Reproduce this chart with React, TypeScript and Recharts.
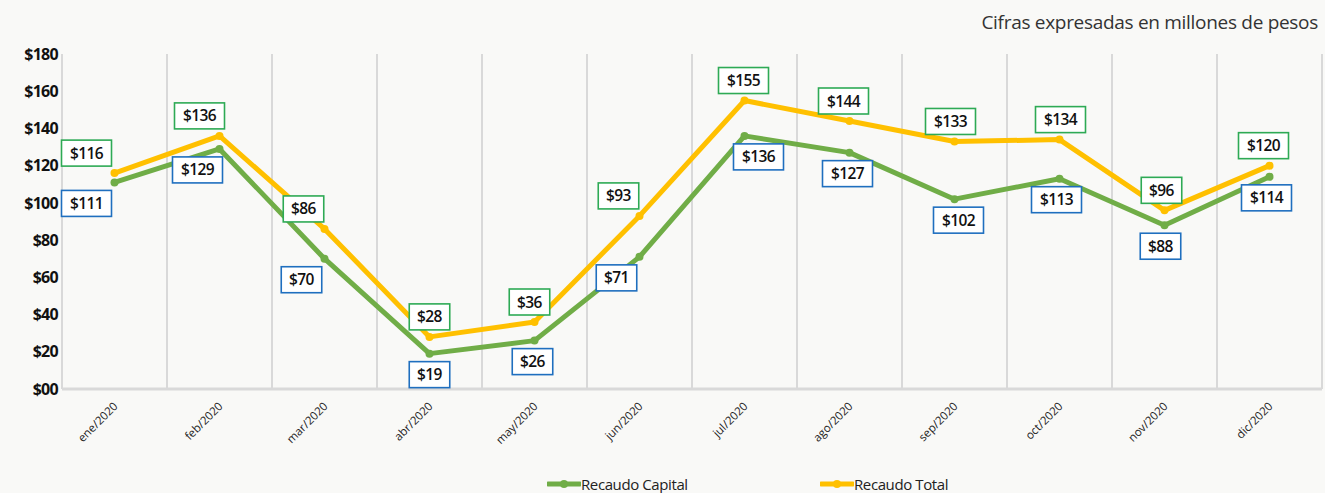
import { LineChart, Line, XAxis, YAxis, ReferenceLine, LabelList } from 'recharts'

const meses = [
  'ene/2020', 'feb/2020', 'mar/2020', 'abr/2020', 'may/2020', 'jun/2020',
  'jul/2020', 'ago/2020', 'sep/2020', 'oct/2020', 'nov/2020', 'dic/2020',
]
const recaudoCapital = [111, 129, 70, 19, 26, 71, 136, 127, 102, 113, 88, 114]
const recaudoTotal = [116, 136, 86, 28, 36, 93, 155, 144, 133, 134, 96, 120]
const yTicks = [0, 20, 40, 60, 80, 100, 120, 140, 160, 180]

// label placement tweaks (horizontal shift of each box from its point)
const totalDx = [-28, -20, -21, 0, -5, -21, -1, -6, -4, 1, -3, -6]
const capitalDx = [-28, -22, -23, 0, -2, -23, 14, -2, 4, -3, -4, -3]

const data = meses.map((mes, i) => ({
  mes,
  capital: recaudoCapital[i],
  total: recaudoTotal[i],
}))

const FONT = '"Open Sans", sans-serif'
const GREEN = '#70ad47'
const YELLOW = '#ffc000'
const GRID = '#d9d9d9'

function fmtMoney(v: number) {
  return '$' + String(v).padStart(2, '0')
}

function XTick(props: any) {
  const { x, y, payload } = props
  return (
    <text
      transform={`translate(${x + 4},${y + 10}) rotate(-45)`}
      textAnchor="end"
      fontSize={11.5}
      fontFamily={FONT}
      fill="#222"
    >
      {payload.value}
    </text>
  )
}

function makeBoxLabel(dxs: number[], dy: number, border: string) {
  return function BoxLabel(props: any) {
    const { x, y, value, index } = props
    const txt = fmtMoney(value)
    const w = 12 + txt.length * 9.5
    const h = 26
    const cx = x + dxs[index]
    const cy = y + dy
    return (
      <g>
        <rect x={cx - w / 2} y={cy - h / 2} width={w} height={h} fill="#fff" stroke={border} strokeWidth={1.6} />
        <text x={cx} y={cy + 5.5} textAnchor="middle" fontSize={15.5} fontWeight={600}
          fontFamily={FONT} fill="#111" letterSpacing={-0.6}>
          {txt}
        </text>
      </g>
    )
  }
}

function LegendItem({ color, label }: { color: string; label: string }) {
  return (
    <div style={{ display: 'flex', alignItems: 'center' }}>
      <svg width={34} height={10}>
        <line x1={1} y1={5} x2={33} y2={5} stroke={color} strokeWidth={5} strokeLinecap="round" />
        <circle cx={17} cy={5} r={4} fill={color} />
      </svg>
      <span style={{ fontSize: 15, color: '#222', letterSpacing: -0.4 }}>{label}</span>
    </div>
  )
}

export default function App() {
  return (
    <div style={{ position: 'absolute', left: 0, top: 0, width: 1325, height: 493, background: '#f9f9f7', overflow: 'hidden', fontFamily: FONT }}>
      <div style={{ position: 'absolute', right: 7, top: 9, fontSize: 19, color: '#333', letterSpacing: -0.3 }}>
        Cifras expresadas en millones de pesos
      </div>
      <LineChart width={1325} height={493} data={data} margin={{ top: 54, right: 3, left: 0, bottom: 0 }}>
        {meses.map((m) => (
          <ReferenceLine key={m} x={m} position="start" stroke={GRID} strokeWidth={2} />
        ))}
        <ReferenceLine x={meses[meses.length - 1]} position="end" stroke={GRID} strokeWidth={2} />
        <XAxis dataKey="mes" scale="band" height={104} interval={0} tick={<XTick />} tickLine={false}
          axisLine={{ stroke: GRID, strokeWidth: 3 }} />
        <YAxis width={62} domain={[0, 180]} ticks={yTicks} axisLine={false} tickLine={false}
          tickSize={4} tickMargin={0} tickFormatter={fmtMoney}
          tick={{ fontSize: 16, fontWeight: 700, fill: '#111', fontFamily: FONT, letterSpacing: -0.7 }} />
        <Line dataKey="total" name="Recaudo Total" stroke={YELLOW} strokeWidth={5} strokeLinejoin="round"
          dot={{ r: 4, fill: YELLOW, stroke: 'none' }} activeDot={false} isAnimationActive={false} />
        <Line dataKey="capital" name="Recaudo Capital" stroke={GREEN} strokeWidth={5} strokeLinejoin="round"
          dot={{ r: 4, fill: GREEN, stroke: 'none' }} activeDot={false} isAnimationActive={false} />
        <Line dataKey="total" stroke="none" dot={false} activeDot={false} legendType="none" isAnimationActive={false}>
          <LabelList dataKey="total" content={makeBoxLabel(totalDx, -20, '#2eaa55')} />
        </Line>
        <Line dataKey="capital" stroke="none" dot={false} activeDot={false} legendType="none" isAnimationActive={false}>
          <LabelList dataKey="capital" content={makeBoxLabel(capitalDx, 21, '#1f6fbf')} />
        </Line>
      </LineChart>
      <div style={{ position: 'absolute', left: 547, top: 474 }}>
        <LegendItem color={GREEN} label="Recaudo Capital" />
      </div>
      <div style={{ position: 'absolute', left: 820, top: 474 }}>
        <LegendItem color={YELLOW} label="Recaudo Total" />
      </div>
    </div>
  )
}
